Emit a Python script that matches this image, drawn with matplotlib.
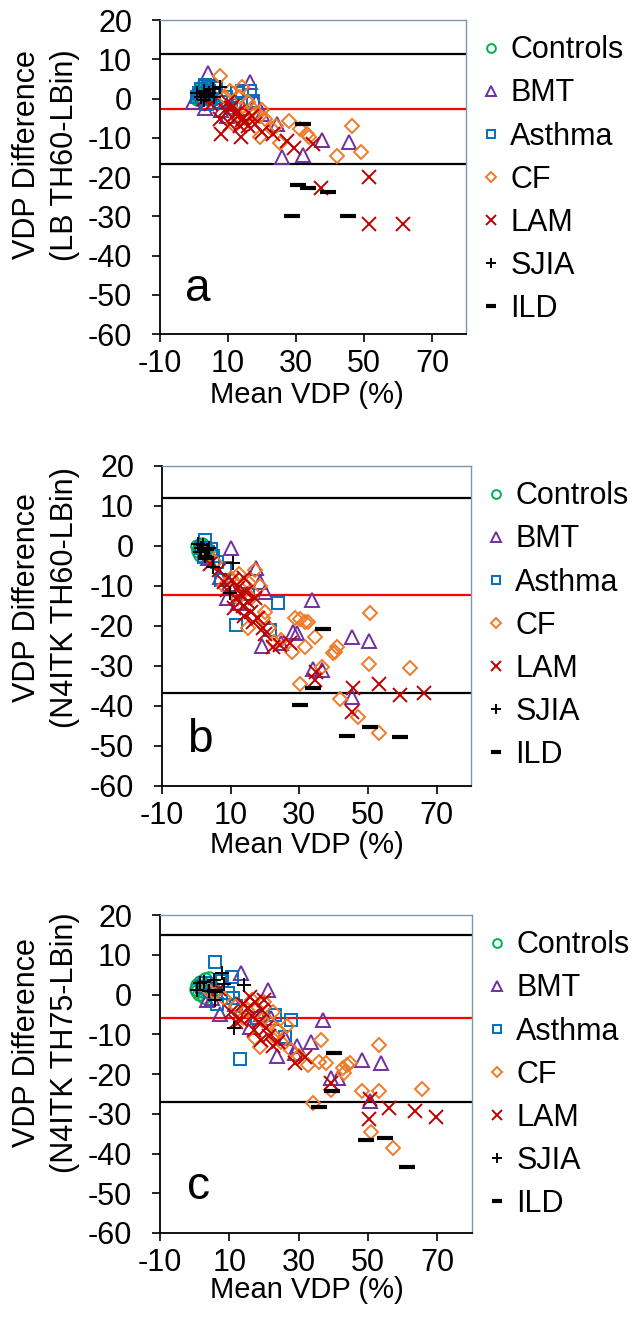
import matplotlib
matplotlib.use("Agg")
import matplotlib.pyplot as plt

plt.rcParams["font.family"] = ["Liberation Sans", "DejaVu Sans"]
plt.rcParams["axes.unicode_minus"] = False

# ---------------- data ----------------
GROUPS = ["Controls", "BMT", "Asthma", "CF", "LAM", "SJIA", "ILD"]

# panel a: LB TH60 - LBin
ctrl_a_x = [0.8, 1.2, 1.5, 2.0, 2.3, 2.7, 3.0, 3.4, 3.8, 4.2, 1.0, 2.5, 3.6, 4.6, 1.8]
ctrl_a_y = [1.2, 0.5, 2.0, 1.5, 2.8, 0.8, 2.2, 1.0, 2.6, 1.8, -0.2, 3.4, 0.2, 1.0, 0.0]
bmt_a_x = [4.2, -0.2, 3.2, 9.6, 8.0, 11.0, 16.5, 18.1, 24.3, 26.0, 32.2, 37.7, 45.7, 14.5, 20.0]
bmt_a_y = [6.6, -1.0, -2.3, -4.4, -3.0, -1.5, 4.1, -1.0, -6.5, -15.0, -14.3, -10.6, -11.2, -2.5, -4.0]
asthma_a_x = [1.0, 2.0, 3.2, 4.5, 5.5, 6.5, 8.0, 9.5, 11.0, 12.5, 14.0, 16.5, 3.8, 2.6, 17.4,
              1.5, 4.0, 5.0]
asthma_a_y = [0.5, 2.5, 3.5, 2.0, 1.0, 2.8, -1.0, 0.5, -2.5, 1.5, 2.0, 2.0, -1.5, 0.0, -0.6,
              1.5, 3.0, 0.0]
cf_a_x = [7.5, 10.5, 13.5, 14.0, 12.0, 16.0, 18.0, 19.4, 20.9, 22.8, 19.4, 25.3, 27.9, 31.2,
          33.1, 33.9, 42.2, 46.6, 49.1, 9.0, 15.0, 17.0, 20.0, 24.0, 11.5]
cf_a_y = [5.8, 2.0, 0.3, 3.0, -3.5, -1.0, -4.0, -4.4, -5.3, -7.8, -9.9, -11.3, -5.8, -7.8,
          -9.1, -9.7, -14.7, -6.9, -13.5, 0.5, -5.0, -2.5, -3.0, -7.0, -6.5]
lam_a_x = [3.0, 5.0, 7.6, 9.0, 10.0, 11.0, 12.0, 13.0, 14.0, 15.0, 16.0, 17.0, 10.5, 13.7,
           14.5, 8.0, 11.5, 13.5, 23.3, 27.3, 29.4, 35.1, 37.3, 51.6, 51.6, 61.4, 18.0, 20.0]
lam_a_y = [0.0, -1.5, -5.3, -3.0, -1.0, -2.5, -4.0, -3.5, -5.5, -6.0, -7.0, -4.5, -6.5, -9.9,
           -5.0, -9.0, -2.0, -7.0, -9.1, -10.8, -12.5, -11.6, -22.9, -19.9, -32.0, -32.0, -6.5, -8.5]
sjia_a_x = [1.0, 2.0, 2.8, 3.5, 4.5, 5.5, 6.0, 7.5, 3.0]
sjia_a_y = [1.5, 0.5, 2.0, 1.0, 1.5, 2.5, 0.5, 3.0, -0.5]
ild_a_x = [28.9, 30.7, 33.6, 39.5, 45.4, 32.2]
ild_a_y = [-30.0, -22.0, -22.8, -23.9, -30.0, -6.6]
lines_a = [11.3, -2.7, -16.6]

# panel b: N4ITK TH60 - LBin
ctrl_b_x = [0.3, 0.8, 1.2, 1.6, 2.0, 2.5, 3.0, 0.5, 1.8, 2.8, 3.4, 1.0]
ctrl_b_y = [0.0, -0.5, 0.3, -1.0, -0.2, -1.5, -0.8, -1.2, 0.5, -2.0, -1.0, -2.2]
bmt_b_x = [10.2, 3.5, 6.8, 8.8, 12.2, 18.5, 17.5, 19.0, 20.0, 24.8, 28.2, 29.2, 33.6, 34.1,
           36.5, 45.3, 45.3, 50.4, 9.5]
bmt_b_y = [-0.6, -3.0, -7.7, -13.1, -14.3, -8.9, -5.6, -25.0, -11.4, -24.3, -21.6, -21.8,
           -13.5, -30.8, -31.0, -22.7, -37.7, -23.7, -9.5]
asthma_b_x = [2.5, 1.5, 3.5, 5.0, 6.0, 7.3, 4.2, 8.5, 11.7, 21.4, 23.9, 15.0, 2.2]
asthma_b_y = [1.5, -0.5, -1.5, -2.5, -4.0, -8.5, -0.8, -5.5, -19.75, -21.0, -14.3, -12.0, -2.8]
cf_b_x = [3.5, 5.5, 8.0, 10.0, 12.5, 14.0, 15.2, 16.0, 17.1, 18.5, 15.1, 19.5, 21.2, 24.8,
          27.8, 28.7, 30.2, 31.6, 31.6, 32.6, 34.7, 36.5, 39.9, 40.4, 40.9, 30.2, 41.8, 47.2,
          50.4, 50.6, 53.3, 62.3, 12.0, 20.0, 22.5]
cf_b_y = [-1.5, -4.0, -10.0, -8.0, -7.0, -9.5, -9.3, -13.0, -6.0, -10.0, -20.6, -18.0, -20.4,
          -23.5, -26.4, -18.0, -18.3, -18.9, -25.3, -18.9, -22.7, -30.2, -26.8, -26.4, -25.2,
          -34.6, -38.3, -42.8, -29.5, -16.8, -46.8, -30.5, -13.0, -16.5, -24.0]
lam_b_x = [4.0, 6.5, 8.0, 9.0, 10.5, 11.5, 12.0, 13.0, 13.5, 14.5, 15.0, 16.0, 17.0, 18.0,
           19.5, 11.0, 13.8, 16.5, 20.0, 22.4, 24.3, 27.3, 34.6, 35.0, 45.3, 45.7, 53.3, 59.4,
           66.2, 14.0]
lam_b_y = [-4.5, -6.0, -9.0, -11.0, -8.5, -13.0, -10.5, -12.0, -15.0, -11.5, -14.0, -16.5,
           -13.0, -18.0, -20.5, -15.5, -8.0, -19.0, -22.0, -25.2, -24.75, -24.2, -33.5, -31.5,
           -41.4, -35.6, -34.5, -37.25, -36.7, -17.5]
sjia_b_x = [0.5, 1.5, 2.0, 3.0, 3.8, 4.9, 10.7, 9.75, 2.5, 1.0]
sjia_b_y = [0.5, -0.5, 0.2, -1.0, -0.5, -5.2, -4.3, -11.8, -2.5, -1.5]
ild_b_x = [30.2, 34.1, 37.0, 43.8, 50.6, 59.2, 2.8]
ild_b_y = [-39.75, -35.6, -20.75, -47.5, -45.2, -47.7, -3.0]
lines_b = [12.0, -12.25, -36.75]

# panel c: N4ITK TH75 - LBin
ctrl_c_x = [0.3, 0.8, 1.5, 2.0, 2.5, 3.0, 3.5, 4.0, 4.5, 5.0, 1.2, 2.8, 4.2, 5.5, 0.6]
ctrl_c_y = [1.5, 2.5, 3.2, 1.0, 2.0, 3.8, 1.5, 2.8, 0.5, 2.2, 0.2, -0.5, 4.2, 1.2, 0.8]
bmt_c_x = [13.3, 21.2, 7.4, 16.0, 5.0, 3.6, 19.0, 26.1, 23.6, 28.9, 29.5, 33.6, 37.0, 39.3,
           41.2, 48.4, 53.8, 50.5, 22.0, 11.5]
bmt_c_y = [5.3, 1.1, -4.8, -8.1, -1.0, -1.4, -5.0, -11.0, -15.4, -14.8, -13.0, -11.9, -6.3,
           -21.1, -21.1, -16.5, -17.2, -26.9, -6.0, -2.5]
asthma_c_x = [5.8, 10.8, 8.0, 9.5, 6.5, 12.0, 3.0, 4.5, 13.1, 26.0, 27.9, 23.1, 18.0, 2.0, 11.0]
asthma_c_y = [8.2, 4.4, 3.5, 0.5, -2.5, -3.0, 3.0, 1.0, -16.1, -10.6, -6.4, -5.2, -6.0, 2.0, -1.0]
cf_c_x = [3.5, 6.0, 8.5, 12.0, 15.0, 16.5, 17.4, 18.9, 20.0, 21.5, 22.5, 24.0, 19.5, 23.0,
          25.0, 27.9, 29.5, 32.7, 34.1, 36.4, 36.0, 37.9, 39.3, 42.7, 43.9, 44.9, 43.1, 48.4,
          50.8, 53.1, 53.1, 57.2, 65.5, 14.0, 26.5, 30.0]
cf_c_y = [1.5, 0.5, -1.0, -3.0, -4.0, -1.5, -11.0, -13.1, -2.0, -7.0, -4.5, -9.0, -6.5, -10.5,
          -12.0, -14.0, -16.0, -17.7, -27.4, -11.5, -16.9, -17.2, -24.0, -18.6, -17.7, -17.3,
          -19.7, -24.4, -34.7, -24.3, -12.6, -38.5, -23.8, -6.0, -8.0, -15.5]
lam_c_x = [7.0, 10.5, 12.0, 14.0, 15.5, 16.5, 17.5, 18.5, 19.5, 20.5, 21.5, 17.0, 19.0, 22.5,
           13.5, 24.0, 28.9, 31.7, 39.3, 50.6, 50.3, 56.0, 63.6, 69.6, 16.0, 20.0]
lam_c_y = [1.5, -4.5, -7.0, -2.5, -3.5, -5.5, -2.0, -7.0, -4.0, -8.5, -10.5, -9.0, -11.5, -13.0,
           -6.5, -12.0, -17.3, -15.6, -22.3, -26.4, -31.4, -28.6, -29.2, -30.9, -0.5, -1.5]
sjia_c_x = [0.7, 2.7, 5.5, 7.9, 8.4, 6.0, 14.1, 11.2, 1.5, 4.0]
sjia_c_y = [1.25, 3.2, 3.6, 5.3, 2.75, -1.4, 2.3, -8.5, 3.0, 1.0]
ild_c_x = [36.0, 39.5, 40.1, 49.3, 55.0, 61.2, 6.0]
ild_c_y = [-28.2, -24.4, -14.6, -36.6, -36.2, -43.4, 1.0]
lines_c = [15.1, -6.0, -27.1]

X_TICKS = [-10, 10, 30, 50, 70]
Y_TICKS = [-60, -50, -40, -30, -20, -10, 0, 10, 20]

# ---------------- styles ----------------
STYLE = {
    "Controls": dict(marker="o", color="#00B050", ms=9),
    "BMT": dict(marker="^", color="#7030A0", ms=10.5),
    "Asthma": dict(marker="s", color="#0070C0", ms=8.5),
    "CF": dict(marker="D", color="#F07A28", ms=7.5),
    "LAM": dict(marker="x", color="#C00000", ms=10),
    "SJIA": dict(marker="+", color="black", ms=10),
    "ILD": dict(marker="_", color="black", ms=11),
}
LINE_COLORS = ["black", "red", "black"]
FS = 22

panels = [
    dict(rect=[0.2516, 0.7500, 0.4811, 0.2350], letter="a", sub="(LB TH60-LBin)",
         ycen=155, xlab=395,
         data=[(ctrl_a_x, ctrl_a_y), (bmt_a_x, bmt_a_y), (asthma_a_x, asthma_a_y),
               (cf_a_x, cf_a_y), (lam_a_x, lam_a_y), (sjia_a_x, sjia_a_y), (ild_a_x, ild_a_y)],
         lines=lines_a),
    dict(rect=[0.2547, 0.4117, 0.4858, 0.2395], letter="b", sub="(N4ITK TH60-LBin)",
         ycen=598, xlab=845,
         data=[(ctrl_b_x, ctrl_b_y), (bmt_b_x, bmt_b_y), (asthma_b_x, asthma_b_y),
               (cf_b_x, cf_b_y), (lam_b_x, lam_b_y), (sjia_b_x, sjia_b_y), (ild_b_x, ild_b_y)],
         lines=lines_b),
    dict(rect=[0.2516, 0.0771, 0.4906, 0.2380], letter="c", sub="(N4ITK TH75-LBin)",
         ycen=1043, xlab=1290,
         data=[(ctrl_c_x, ctrl_c_y), (bmt_c_x, bmt_c_y), (asthma_c_x, asthma_c_y),
               (cf_c_x, cf_c_y), (lam_c_x, lam_c_y), (sjia_c_x, sjia_c_y), (ild_c_x, ild_c_y)],
         lines=lines_c),
]

W, H = 636, 1336
fig = plt.figure(figsize=(W / 100, H / 100), dpi=100)

for p in panels:
    ax = fig.add_axes(p["rect"])
    ax.set_xlim(-10, 80)
    ax.set_ylim(-60, 20)

    for yv, c in zip(p["lines"], LINE_COLORS):
        ax.axhline(yv, color=c, lw=1.6, zorder=1)

    for g, (xs, ys) in zip(GROUPS, p["data"]):
        st = STYLE[g]
        mew = 3 if g == "ILD" else 1.4
        ax.plot(xs, ys, ls="none", marker=st["marker"], ms=st["ms"], mfc="none",
                mec=st["color"], mew=mew, label=g, zorder=3)

    ax.set_xticks(X_TICKS)
    ax.set_yticks(Y_TICKS)
    ax.tick_params(direction="out", length=6, width=1.2, labelsize=FS, colors="black")
    ax.tick_params(axis="y", pad=14)
    ax.tick_params(axis="x", pad=5)
    for s in ("left", "bottom"):
        ax.spines[s].set_color("black")
        ax.spines[s].set_linewidth(1.3)
    for s in ("top", "right"):
        ax.spines[s].set_color("#7F96B2")
        ax.spines[s].set_linewidth(1.0)

    ax.text(1.0, -51.5, p["letter"], fontsize=33, ha="center", va="baseline")

    ax.legend(loc="upper left", bbox_to_anchor=(1.01, 1.0), frameon=False, fontsize=FS,
              markerscale=0.7, handlelength=0.45, handletextpad=0.4, labelspacing=0.43,
              borderaxespad=0.3, borderpad=0.2)

    fig.text(27 / W, 1 - p["ycen"] / H, "VDP Difference", rotation=90, fontsize=FS,
             ha="center", va="center")
    fig.text(65 / W, 1 - p["ycen"] / H, p["sub"], rotation=90, fontsize=FS,
             ha="center", va="center")
    fig.text(307 / W, 1 - p["xlab"] / H, "Mean VDP (%)", fontsize=21,
             ha="center", va="center")

fig.savefig("out.png", dpi=100)
